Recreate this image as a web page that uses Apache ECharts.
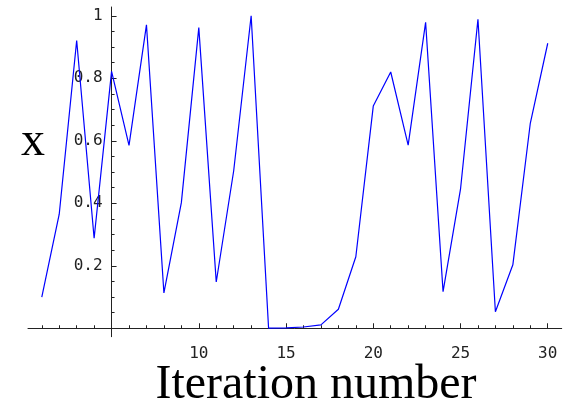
<!DOCTYPE html>
<html>
<head>
<meta charset="utf-8">
<script src="https://cdn.jsdelivr.net/npm/echarts@6/dist/echarts.min.js"></script>
<style>html,body{margin:0;padding:0;background:#fff}#c{width:569px;height:401px}</style>
</head>
<body>
<div id="c"></div>
<script>
// Data
var iterations = [1,2,3,4,5,6,7,8,9,10,11,12,13,14,15,16,17,18,19,20,21,22,23,24,25,26,27,28,29,30];
var xValues = [0.100,0.365,0.921,0.288,0.822,0.585,0.971,0.113,0.402,0.962,0.148,0.504,1.000,0.0003,0.001,0.004,0.011,0.061,0.229,0.711,0.820,0.586,0.979,0.117,0.445,0.989,0.053,0.203,0.656,0.912];
var xMajorTicks = [5,10,15,20,25,30];
var xTickLabels = [10,15,20,25,30];
var xMinorTicks = [1,2,3,4,6,7,8,9,11,12,13,14,16,17,18,19,21,22,23,24,26,27,28,29];
var yTickLabels = [0.2,0.4,0.6,0.8,1];
var yMinorTicks = [0.05,0.1,0.15,0.25,0.3,0.35,0.45,0.5,0.55,0.65,0.7,0.75,0.85,0.9,0.95];
var xTitle = 'Iteration number';
var yTitle = 'x';

var X_MIN = 0.21, X_MAX = 30.8, Y_MIN = -0.027, Y_MAX = 1.028;
var gridLeft = 28, gridTop = 7, gridRight = 7.3, gridBottom = 64.3;
var plotW = 569 - gridLeft - gridRight;
var yAxisOffset = -((5 - X_MIN) / (X_MAX - X_MIN) * plotW);

var labelFont = {fontFamily: 'DejaVu Sans Mono', fontSize: 16, color: '#222'};
var axisColor = '#222';

var chart = echarts.init(document.getElementById('c'), null, {renderer: 'canvas'});
chart.setOption({
  animation: false,
  backgroundColor: '#fff',
  grid: {left: gridLeft, right: gridRight, top: gridTop, bottom: gridBottom, containLabel: false, outerBoundsMode: 'none'},
  xAxis: [{
    type: 'value', min: X_MIN, max: X_MAX, position: 'bottom',
    axisLine: {show: true, onZero: true, lineStyle: {color: axisColor, width: 1}},
    axisTick: {show: true, inside: true, length: 5, customValues: xMajorTicks, lineStyle: {color: axisColor}},
    axisLabel: Object.assign({show: true, margin: 9, customValues: xTickLabels}, labelFont),
    splitLine: {show: false}
  }, {
    type: 'value', min: X_MIN, max: X_MAX, position: 'bottom',
    axisLine: {show: false, onZero: true},
    axisTick: {show: true, inside: true, length: 3, customValues: xMinorTicks, lineStyle: {color: axisColor}},
    axisLabel: {show: false},
    splitLine: {show: false}
  }],
  yAxis: [{
    type: 'value', min: Y_MIN, max: Y_MAX, position: 'left', offset: yAxisOffset,
    axisLine: {show: true, onZero: false, lineStyle: {color: axisColor, width: 1}},
    axisTick: {show: true, inside: true, length: 5, customValues: yTickLabels, lineStyle: {color: axisColor}},
    axisLabel: Object.assign({show: true, margin: 9, customValues: yTickLabels}, labelFont),
    splitLine: {show: false}
  }, {
    type: 'value', min: Y_MIN, max: Y_MAX, position: 'left', offset: yAxisOffset,
    axisLine: {show: false, onZero: false},
    axisTick: {show: true, inside: true, length: 3, customValues: yMinorTicks, lineStyle: {color: axisColor}},
    axisLabel: {show: false},
    splitLine: {show: false}
  }],
  graphic: [{
    type: 'text', x: 316, y: 385,
    style: {text: xTitle, font: '48px "Liberation Serif"', fill: '#000', textAlign: 'center', textVerticalAlign: 'middle'}
  }, {
    type: 'text', x: 33, y: 142,
    style: {text: yTitle, font: '48px "Liberation Serif"', fill: '#000', textAlign: 'center', textVerticalAlign: 'middle'}
  }],
  series: [{
    type: 'line', xAxisIndex: 0, yAxisIndex: 0,
    data: iterations.map(function (n, i) { return [n, xValues[i]]; }),
    showSymbol: false, symbol: 'none', clip: false,
    lineStyle: {color: '#0000ff', width: 1.2}
  }]
});
</script>
</body>
</html>
